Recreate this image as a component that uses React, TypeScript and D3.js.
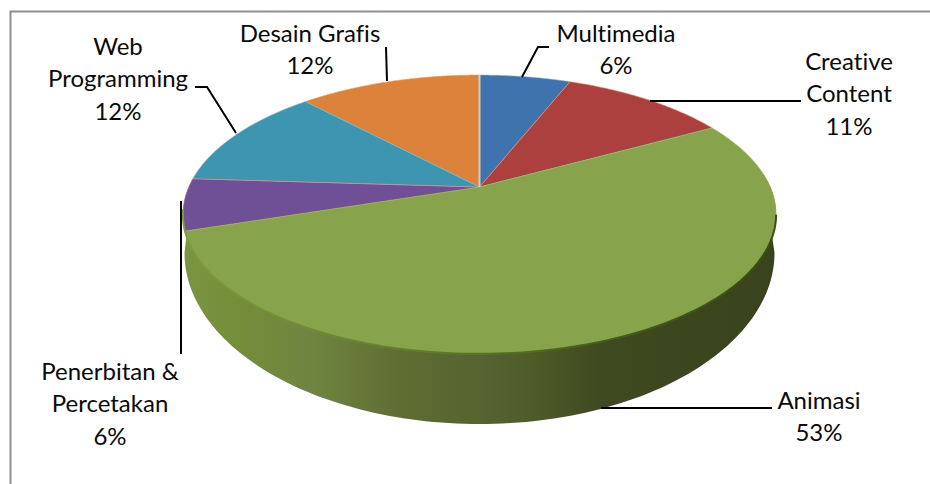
import React from "react";
import * as d3 from "d3";

// Sector shares, clockwise from twelve o'clock
const categories = ["Multimedia", "Creative Content", "Animasi", "Penerbitan & Percetakan", "Web Programming", "Desain Grafis"];
const shares = [6, 11, 53, 6, 12, 12];
const sliceColors = ["#3f73ad", "#ab403f", "#87a34c", "#6f4f96", "#3d95b2", "#dc823a"];

const labelLines = [
  ["Multimedia", "6%"],
  ["Creative", "Content", "11%"],
  ["Animasi", "53%"],
  ["Penerbitan &", "Percetakan", "6%"],
  ["Web", "Programming", "12%"],
  ["Desain Grafis", "12%"],
];
const labelAnchors = [
  [616, 42],
  [849, 70],
  [819, 409],
  [110, 380],
  [118, 55],
  [310, 42],
];
const leaders: [number, number][][] = [
  [[522, 77], [538, 47], [549, 47]],
  [[650, 101], [801, 101]],
  [[601, 408], [772, 408]],
  [[181, 201], [181, 354]],
  [[236, 133], [207, 87], [195, 87]],
  [[387, 81], [386, 47]],
];

const width = 930;
const height = 484;

// Perspective projection of the pie's top face
const apex = { x: 479.5, y: 187 };
const tilt = 0.197;
const spanX = 290.8;
const spanY = 134;
const project = (angle: number): [number, number] => {
  const u = Math.sin(angle);
  const v = Math.cos(angle);
  const w = 1 + tilt * v;
  return [apex.x + (spanX * u) / w, apex.y - (spanY * v) / w];
};

// Lower rim of the pie's side wall
const rim = { cx: 479.5, cy: 253, rx: 295, ry: 171 };
const rimAt = (angle: number): [number, number] => [rim.cx + rim.rx * Math.sin(angle), rim.cy - rim.ry * Math.cos(angle)];

const arcs = d3.pie<number>().sort(null)(shares);
const linePath = d3.line();

const sampleAngles = (a0: number, a1: number) => d3.range(0, 121).map((i) => a0 + ((a1 - a0) * i) / 120);

const slicePath = (a0: number, a1: number) =>
  linePath([[apex.x, apex.y], ...sampleAngles(a0, a1).map(project)]) + "Z";

// Wall from the right extreme of the face round the front to the left extreme
const wallFront = sampleAngles(Math.PI / 2 - 0.1, (3 * Math.PI) / 2 + 0.06);
const wallPath =
  linePath([...wallFront.map(project), ...sampleAngles(Math.PI * 1.5, Math.PI * 0.5).map(rimAt)]) + "Z";
const frontEdge = linePath(sampleAngles(Math.PI / 2 + 0.2, (3 * Math.PI) / 2 - 0.16).map(project)) ?? "";

const wallStops: [number, string][] = [
  [0, "#7b9440"],
  [0.08, "#758e38"],
  [0.22, "#6f8441"],
  [0.36, "#5f6e32"],
  [0.5, "#556430"],
  [0.6, "#4d5a28"],
  [0.7, "#3f4a20"],
  [1, "#38431d"],
];
const edgeStops: [number, string][] = [
  [0, "#7f9c3c"],
  [0.4, "#5f7f24"],
  [0.7, "#436012"],
  [1, "#36500e"],
];

export default function App() {
  return (
    <svg
      width={width}
      height={height}
      viewBox={`0 0 ${width} ${height}`}
      style={{ position: "fixed", left: 0, top: 0, background: "#fff" }}
    >
      <defs>
        <linearGradient id="wallShade" gradientUnits="userSpaceOnUse" x1={184} x2={776} y1={0} y2={0}>
          {wallStops.map(([o, c]) => (
            <stop key={o} offset={o} stopColor={c} />
          ))}
        </linearGradient>
        <linearGradient id="edgeShade" gradientUnits="userSpaceOnUse" x1={184} x2={776} y1={0} y2={0}>
          {edgeStops.map(([o, c]) => (
            <stop key={o} offset={o} stopColor={c} />
          ))}
        </linearGradient>
      </defs>
      <path d="M10.5 484V11.5H930" fill="none" stroke="#8f8f8f" strokeWidth={2} />
      <path d={wallPath} fill="url(#wallShade)" />
      {arcs.map((a, i) => (
        <path
          key={categories[i]}
          d={slicePath(a.startAngle, a.endAngle)}
          fill={sliceColors[i]}
          stroke="#b9a98a"
          strokeWidth={0.6}
        />
      ))}
      {/* Pale seam at the zero angle and a dark lip on the wall's upper edge */}
      <path
        d={linePath([[apex.x, apex.y], project(arcs[0].startAngle)]) ?? ""}
        stroke="#d2cfc0"
        strokeWidth={2}
        fill="none"
      />
      <path d={frontEdge} stroke="url(#edgeShade)" strokeWidth={2} fill="none" />
      {leaders.map((pts, i) => (
        <path key={i} d={linePath(pts) ?? ""} fill="none" stroke="#000" strokeWidth={2} />
      ))}
      {labelLines.map((lines, i) => (
        <text
          key={i}
          x={labelAnchors[i][0]}
          y={labelAnchors[i][1]}
          textAnchor="middle"
          fontFamily="Lato, 'Open Sans', sans-serif"
          fontSize={24}
          fill="#0a0a0a"
          style={{ fontVariantLigatures: "none" }}
        >
          {lines.map((t, j) => (
            <tspan key={j} x={labelAnchors[i][0]} dy={j === 0 ? 0 : 32.4}>
              {t}
            </tspan>
          ))}
        </text>
      ))}
    </svg>
  );
}
